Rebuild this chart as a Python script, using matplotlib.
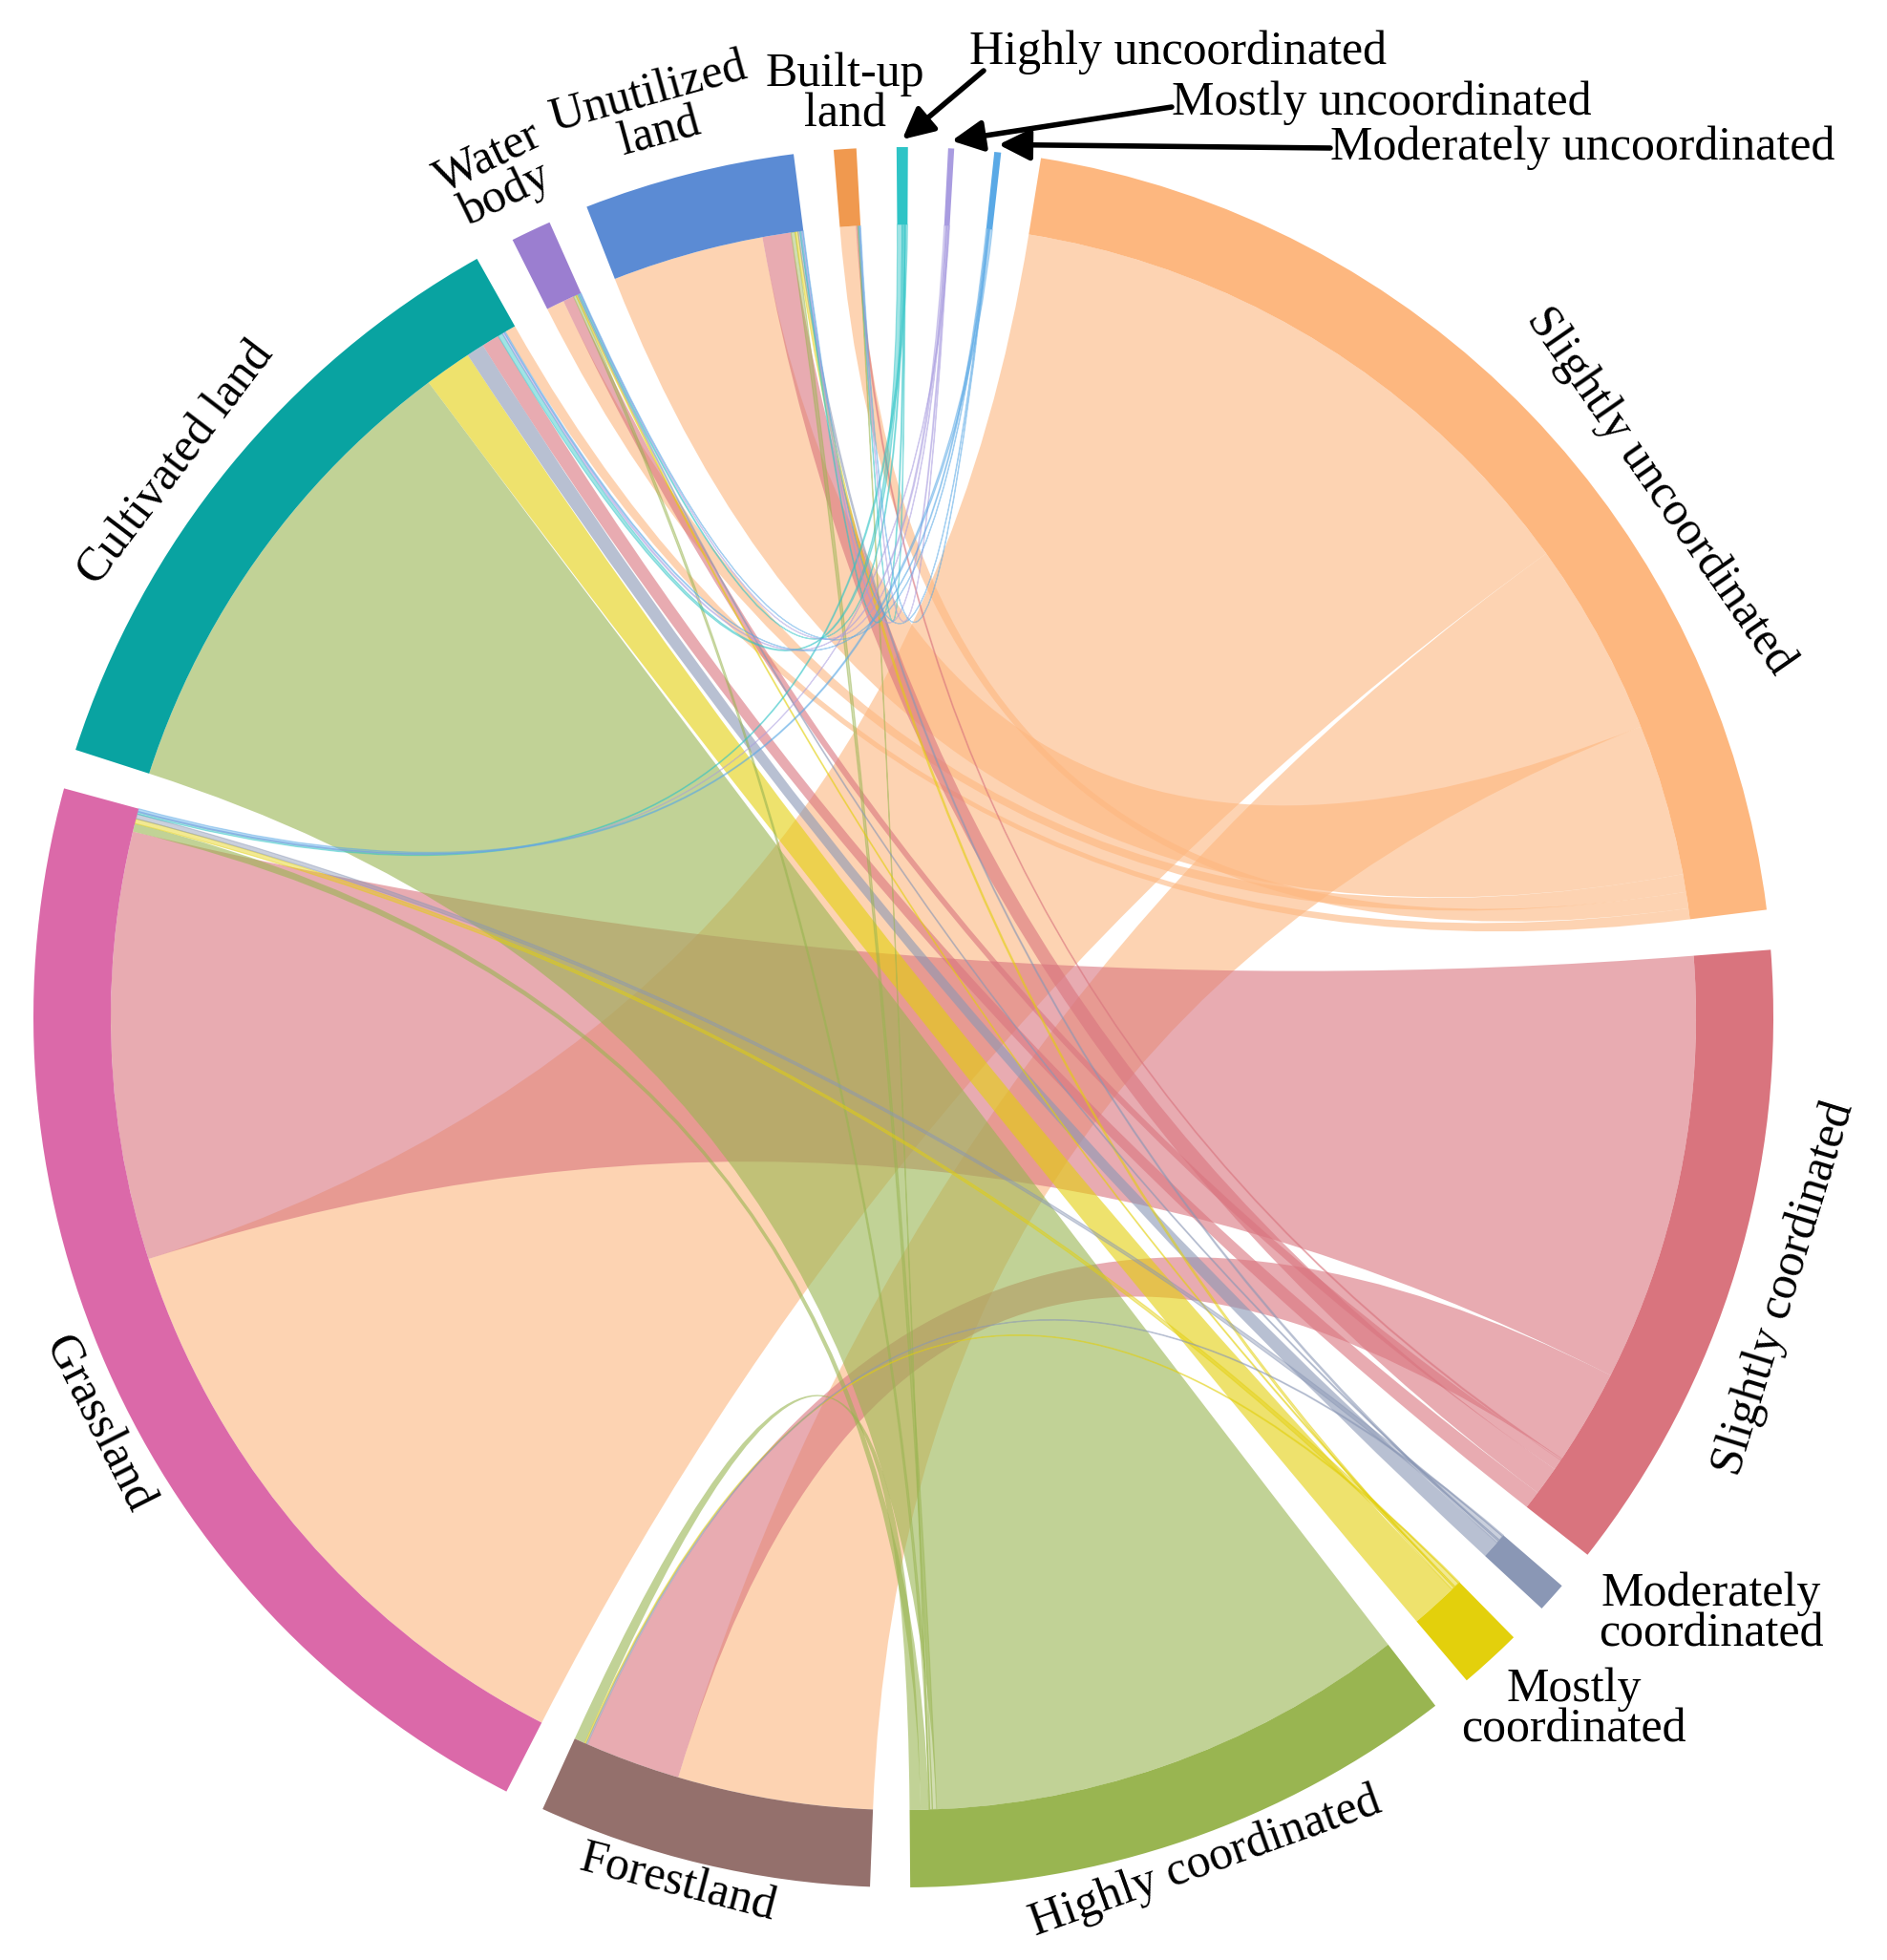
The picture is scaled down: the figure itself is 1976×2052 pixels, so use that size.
import numpy as np
import matplotlib
matplotlib.use('Agg')
import matplotlib.pyplot as plt
from matplotlib.path import Path
from matplotlib.patches import PathPatch, Wedge

plt.rcParams['font.family'] = ['Liberation Serif', 'DejaVu Serif']

land = ['Forestland', 'Grassland', 'Cultivated land', 'Water body',
        'Unutilized land', 'Built-up land']
levels = ['Highly uncoordinated', 'Mostly uncoordinated', 'Moderately uncoordinated',
          'Slightly uncoordinated', 'Slightly coordinated', 'Moderately coordinated',
          'Mostly coordinated', 'Highly coordinated']

# flow from each land type to each coordination level (columns follow `levels`)
forest = [0, 0, 0, 14.3, 7.0, 0.1, 0.1, 0.8]
grass = [0.15, 0.05, 0.2, 45.1, 31.3, 0.35, 0.35, 0.6]
cultivated = [0.35, 0.15, 0.1, 0.8, 1.3, 1.3, 3.45, 35.3]
water = [0.1, 0.05, 0.05, 1.3, 0.8, 0.1, 0.1, 0.2]
unutilized = [0.1, 0.1, 0.05, 11.1, 2.1, 0.15, 0.2, 0.3]
builtup = [0.05, 0.05, 0.05, 1.2, 0.1, 0, 0, 0.05]

land_colors = ['#94706c', '#db69a9', '#09a3a1', '#9b7ed0', '#5b8bd4', '#f0994f']
level_colors = ['#2ec4c6', '#a99ce0', '#5aa9e6', '#fdb77f', '#d9747e',
                '#8a97b5', '#e3d00c', '#99b551']

flows = np.array([forest, grass, cultivated, water, unutilized, builtup])
land_tot = flows.sum(axis=1)
level_tot = flows.sum(axis=0)
total = flows.sum()

cx, cy = 946, 987
R_out = 911
R_in = 830
gap = (360 - 2 * total) / 14
start = 80.9
deg = 1.0

# clockwise order of the sectors, starting with Slightly uncoordinated
order = [('lv', 3), ('lv', 4), ('lv', 5), ('lv', 6), ('lv', 7),
         ('ld', 0), ('ld', 1), ('ld', 2), ('ld', 3), ('ld', 4), ('ld', 5),
         ('lv', 0), ('lv', 1), ('lv', 2)]
seg = {}
a = start
for kind, i in order:
    size = (land_tot[i] if kind == 'ld' else level_tot[i]) * deg
    seg[(kind, i)] = (a, a - size)
    a -= size + gap

# link order inside each sector
land_order = {0: [3, 4, 5, 6, 7, 0, 1, 2],
              1: [3, 4, 7, 6, 5, 0, 1, 2],
              2: [7, 6, 5, 4, 0, 1, 2, 3],
              3: [3, 4, 7, 6, 5, 0, 1, 2],
              4: [3, 4, 7, 6, 5, 0, 1, 2],
              5: [3, 4, 7, 6, 5, 0, 1, 2]}
level_order = {0: [2, 3, 4, 5, 1, 0],
               1: [2, 3, 4, 5, 1, 0],
               2: [2, 3, 4, 5, 1, 0],
               3: [1, 0, 4, 3, 5, 2],
               4: [1, 0, 5, 3, 4, 2],
               5: [0, 1, 5, 3, 4, 2],
               6: [0, 1, 5, 3, 4, 2],
               7: [2, 4, 3, 5, 1, 0]}

src = {}
for i in range(6):
    a = seg[('ld', i)][0]
    for j in land_order[i]:
        w = flows[i, j] * deg
        src[(i, j)] = (a, a - w)
        a -= w
dst = {}
for j in range(8):
    a = seg[('lv', j)][0]
    for i in level_order[j]:
        w = flows[i, j] * deg
        dst[(i, j)] = (a, a - w)
        a -= w


def pt(ang, r):
    t = np.radians(ang)
    return (cx + r * np.cos(t), cy + r * np.sin(t))


def ribbon(s1, s2, t1, t2):
    verts, codes = [], []
    arc1 = np.linspace(s1, s2, max(int(abs(s1 - s2) * 3), 2))
    for k, ang in enumerate(arc1):
        verts.append(pt(ang, R_in))
        codes.append(Path.MOVETO if k == 0 else Path.LINETO)
    verts += [(cx, cy), pt(t1, R_in)]
    codes += [Path.CURVE3, Path.CURVE3]
    arc2 = np.linspace(t1, t2, max(int(abs(t1 - t2) * 3), 2))
    for ang in arc2[1:]:
        verts.append(pt(ang, R_in))
        codes.append(Path.LINETO)
    verts += [(cx, cy), pt(s1, R_in), pt(s1, R_in)]
    codes += [Path.CURVE3, Path.CURVE3, Path.CLOSEPOLY]
    return Path(verts, codes)


fig = plt.figure(figsize=(19.76, 20.52), dpi=100)
ax = fig.add_axes([0, 0, 1, 1])
ax.set_xlim(0, 1976)
ax.set_ylim(0, 2052)
ax.axis('off')

# wide ribbons first (SU, SC, HC on top of each other), thin ones last
layer = [3, 4, 7, 6, 5, 0, 1, 2]
links = [(flows[i, j] < 0.5, layer.index(j), -flows[i, j], i, j)
         for i in range(6) for j in range(8) if flows[i, j] > 0]
links.sort()
for thin_flag, _, _, i, j in links:
    s1, s2 = src[(i, j)]
    t1, t2 = dst[(i, j)]
    thin = (s1 - s2) < 0.4
    ax.add_patch(PathPatch(ribbon(s1, s2, t1, t2), facecolor=level_colors[j],
                           edgecolor=level_colors[j] if thin else 'none',
                           lw=0.8 if thin else 0, alpha=0.45 if thin else 0.6))

for (kind, i), (a1, a2) in seg.items():
    col = land_colors[i] if kind == 'ld' else level_colors[i]
    ax.add_patch(Wedge((cx, cy), R_out, a2, a1, width=R_out - R_in,
                       facecolor=col, edgecolor='none'))

fs = 36
lab = [('Slightly uncoordinated', 34.8, 965), ('Slightly coordinated', -17.1, 965),
       ('Highly coordinated', -70.3, 940), ('Forestland', -104.6, 938),
       ('Grassland', 206.8, 945), ('Cultivated land', 142.7, 957),
       ('Water\nbody', 115.8, 978), ('Unutilized\nland', 105.4, 982)]
for txt, ang, r in lab:
    x, y = pt(ang, r)
    rot = ang - 90 if 0 <= ang <= 180 else ang + 90
    if rot > 180:
        rot -= 360
    ax.text(x, y, txt, rotation=rot, ha='center', va='center', fontsize=fs,
            rotation_mode='anchor', multialignment='center', linespacing=0.9)

ax.text(885, 1953, 'Built-up\nland', ha='center', va='center', fontsize=fs,
        multialignment='center', linespacing=0.9)
ax.text(1792, 362, 'Moderately\ncoordinated', ha='center', va='center', fontsize=fs,
        multialignment='center', linespacing=0.9)
ax.text(1648, 262, 'Mostly\ncoordinated', ha='center', va='center', fontsize=fs,
        multialignment='center', linespacing=0.9)

# small sectors at the top are labelled with arrows
arrow_txt = [(0, 1015, 1997, (1030, 1978)), (1, 1227, 1944, (1227, 1940)),
             (2, 1393, 1897, (1393, 1897))]
for j, tx, ty, tail in arrow_txt:
    ax.text(tx, ty, levels[j], ha='left', va='center', fontsize=fs)
    a1, a2 = seg[('lv', j)]
    tip = pt((a1 + a2) / 2, R_out + 8)
    ax.annotate('', xy=tip, xytext=tail,
                arrowprops=dict(arrowstyle='-|>,head_length=0.9,head_width=0.45',
                                lw=4, color='black', shrinkA=0, shrinkB=0,
                                mutation_scale=22))

fig.savefig('out.png', dpi=100)
